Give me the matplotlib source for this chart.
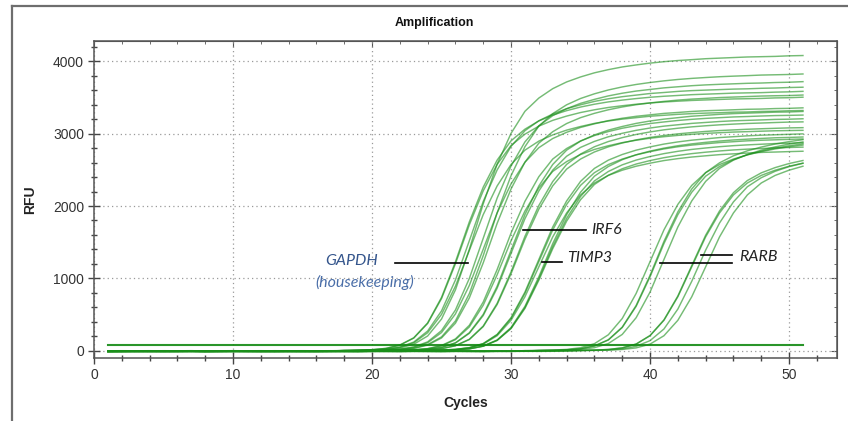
import matplotlib
matplotlib.use("Agg")
import matplotlib.pyplot as plt
from matplotlib.ticker import MultipleLocator
from matplotlib.lines import Line2D

plt.rcParams['font.family'] = ['Liberation Sans', 'DejaVu Sans']

cycles = list(range(1, 52))

# RFU per cycle (1..51)
gapdh = [
    [-18, -12, -6, -5, -6, -4, -5, -6, -5, -4,
     -5, -4, -6, -5, -4, -5, -3, -4, 4, 8,
     16, 37, 89, 203, 438, 840, 1401, 2030, 2578, 3004,
     3309, 3492, 3622, 3715, 3784, 3841, 3885, 3922, 3950, 3975,
     3995, 4011, 4023, 4036, 4044, 4052, 4060, 4064, 4068, 4076, 4080],
    [-8, -7, -8, -6, -7, -8, -7, -6, -8, -7,
     -6, -7, -8, -6, -7, -5, -6, 4, 7, 14,
     32, 78, 178, 384, 737, 1228, 1780, 2261, 2634, 2901,
     3062, 3176, 3257, 3318, 3368, 3407, 3439, 3464, 3485, 3503,
     3517, 3528, 3539, 3546, 3553, 3560, 3564, 3567, 3574, 3578, 3585],
    [-3, -2, -4, -3, -2, -3, -4, -2, -3, -2,
     -3, -4, -2, -3, -2, -3, -1, 3, 5, 11,
     22, 51, 119, 272, 550, 977, 1520, 2063, 2498, 2824,
     3041, 3178, 3272, 3345, 3399, 3446, 3482, 3511, 3533, 3555,
     3569, 3584, 3595, 3602, 3609, 3616, 3620, 3627, 3631, 3638, 3642],
    [-10, -9, -10, -11, -9, -10, -9, -11, -10, -9,
     -10, -9, -11, -10, -9, -10, -8, 2, 5, 10,
     20, 46, 109, 248, 502, 891, 1386, 1881, 2277, 2574,
     2772, 2897, 2983, 3049, 3099, 3142, 3175, 3201, 3221, 3241,
     3254, 3267, 3277, 3284, 3290, 3297, 3300, 3307, 3310, 3317, 3320],
    [-5, -4, -5, -6, -5, -4, -5, -6, -4, -5,
     -4, -5, -6, -5, -4, -5, -3, 3, 7, 14,
     31, 77, 174, 376, 720, 1201, 1740, 2210, 2575, 2836,
     2993, 3104, 3184, 3243, 3292, 3330, 3362, 3386, 3407, 3424,
     3438, 3449, 3459, 3466, 3473, 3480, 3483, 3487, 3494, 3497, 3504],
    [-7, -6, -7, -8, -6, -7, -6, -7, -8, -6,
     -7, -6, -8, -7, -6, -7, -6, -5, -4, 4,
     8, 15, 34, 84, 191, 411, 789, 1314, 1905, 2419,
     2819, 3105, 3277, 3399, 3486, 3551, 3604, 3646, 3680, 3707,
     3730, 3749, 3764, 3776, 3787, 3795, 3802, 3810, 3814, 3818, 3825],
    [-2, -1, -2, -3, -1, -2, -1, -2, -3, -1,
     -2, -1, -3, -2, -1, -2, -1, -2, 3, 6,
     11, 22, 52, 122, 278, 562, 999, 1554, 2109, 2553,
     2886, 3108, 3249, 3345, 3419, 3474, 3522, 3559, 3589, 3611,
     3633, 3648, 3663, 3674, 3682, 3689, 3696, 3700, 3707, 3711, 3719],
    [-12, -11, -12, -10, -11, -12, -11, -10, -12, -11,
     -10, -12, -11, -10, -11, -12, -10, -9, -8, 4,
     7, 14, 32, 77, 176, 380, 729, 1214, 1760, 2235,
     2605, 2869, 3027, 3140, 3221, 3281, 3330, 3369, 3400, 3425,
     3446, 3464, 3478, 3488, 3499, 3506, 3513, 3520, 3524, 3527, 3534],
    [-4, -5, -4, -3, -4, -5, -4, -3, -5, -4,
     -3, -4, -5, -4, -3, -4, -5, -3, 2, 5,
     10, 20, 47, 110, 251, 508, 902, 1403, 1904, 2305,
     2605, 2806, 2933, 3019, 3086, 3136, 3180, 3213, 3240, 3260,
     3280, 3293, 3307, 3317, 3323, 3330, 3337, 3340, 3347, 3350, 3357],
]

irf6 = [
    [-6, -5, -6, -7, -5, -6, -5, -7, -6, -5,
     -6, -5, -7, -6, -5, -6, -7, -5, -6, -4,
     3, 7, 13, 29, 72, 163, 351, 673, 1121, 1625,
     2064, 2405, 2649, 2795, 2899, 2974, 3029, 3075, 3110, 3140,
     3162, 3182, 3198, 3211, 3221, 3231, 3237, 3244, 3250, 3253, 3257],
    [-9, -8, -9, -10, -8, -9, -8, -10, -9, -8,
     -9, -8, -10, -9, -8, -9, -10, -8, -9, -7,
     2, 5, 10, 19, 45, 106, 240, 486, 864, 1344,
     1824, 2208, 2496, 2688, 2810, 2893, 2957, 3005, 3046, 3078,
     3104, 3123, 3142, 3155, 3168, 3178, 3184, 3190, 3197, 3200, 3206],
    [-1, 0, -1, -2, 0, -1, 0, -2, -1, 0,
     -1, 0, -2, -1, 0, -1, -2, 0, -1, 0,
     2, 5, 10, 20, 46, 109, 248, 502, 891, 1386,
     1881, 2277, 2574, 2772, 2897, 2983, 3049, 3099, 3142, 3175,
     3201, 3221, 3241, 3254, 3267, 3277, 3284, 3290, 3297, 3300, 3307],
    [-14, -13, -12, -13, -14, -12, -13, -14, -12, -13,
     -12, -13, -14, -12, -13, -14, -12, -13, -11, -10,
     -8, 3, 6, 13, 28, 70, 158, 341, 654, 1090,
     1580, 2007, 2338, 2575, 2718, 2819, 2891, 2945, 2989, 3024,
     3053, 3075, 3094, 3109, 3122, 3132, 3141, 3147, 3154, 3160, 3163],
    [-4, -3, -4, -5, -3, -4, -3, -5, -4, -3,
     -4, -3, -5, -4, -3, -4, -5, -3, -4, -2,
     -1, 3, 6, 12, 28, 68, 154, 333, 638, 1063,
     1540, 1956, 2279, 2510, 2649, 2747, 2818, 2871, 2914, 2948,
     2975, 2997, 3015, 3031, 3043, 3052, 3061, 3068, 3074, 3080, 3083],
    [-7, -8, -7, -6, -8, -7, -6, -8, -7, -6,
     -7, -8, -6, -7, -8, -7, -6, -7, -8, -5,
     3, 6, 12, 27, 67, 152, 328, 629, 1049, 1520,
     1930, 2250, 2478, 2614, 2712, 2782, 2833, 2876, 2909, 2937,
     2958, 2976, 2991, 3004, 3013, 3022, 3028, 3034, 3040, 3043, 3046],
]

timp3 = [
    [-5, -6, -5, -4, -6, -5, -4, -6, -5, -4,
     -5, -6, -4, -5, -6, -5, -4, -5, -6, -4,
     -5, -3, 2, 5, 9, 18, 42, 99, 225, 456,
     810, 1260, 1710, 2070, 2340, 2520, 2634, 2712, 2772, 2817,
     2856, 2886, 2910, 2928, 2946, 2958, 2970, 2979, 2985, 2991, 2997],
    [-11, -10, -11, -12, -10, -11, -10, -12, -11, -10,
     -11, -10, -12, -11, -10, -11, -12, -10, -11, -9,
     -8, -6, 2, 4, 9, 18, 41, 97, 220, 445,
     791, 1231, 1670, 2022, 2285, 2461, 2573, 2649, 2707, 2751,
     2789, 2819, 2842, 2860, 2877, 2889, 2901, 2909, 2915, 2921, 2927],
    [-3, -2, -3, -4, -2, -3, -2, -4, -3, -2,
     -3, -2, -4, -3, -2, -3, -4, -2, -3, -2,
     -3, -2, -1, 3, 6, 12, 26, 63, 144, 311,
     596, 994, 1440, 1829, 2131, 2347, 2477, 2569, 2635, 2684,
     2724, 2756, 2782, 2802, 2820, 2834, 2845, 2854, 2863, 2868, 2874],
    [-8, -7, -8, -9, -7, -8, -7, -9, -8, -7,
     -8, -7, -9, -8, -7, -8, -9, -7, -8, -7,
     -8, -6, -4, 3, 6, 11, 25, 62, 141, 305,
     584, 973, 1410, 1791, 2087, 2298, 2425, 2515, 2580, 2628,
     2668, 2699, 2724, 2744, 2761, 2775, 2786, 2795, 2803, 2809, 2814],
    [-6, -7, -6, -5, -7, -6, -5, -7, -6, -5,
     -6, -7, -5, -6, -7, -6, -5, -6, -7, -5,
     -4, -3, 2, 4, 8, 17, 39, 91, 207, 420,
     745, 1159, 1573, 1904, 2153, 2318, 2423, 2495, 2550, 2592,
     2628, 2655, 2677, 2694, 2710, 2721, 2732, 2741, 2746, 2752, 2757],
    [-1, -2, -1, 0, -2, -1, 0, -2, -1, 0,
     -1, -2, 0, -1, -2, -1, 0, -1, -2, 0,
     -1, 0, 1, 3, 6, 12, 27, 65, 148, 320,
     613, 1021, 1480, 1880, 2190, 2412, 2546, 2640, 2708, 2759,
     2800, 2833, 2859, 2880, 2898, 2913, 2924, 2934, 2943, 2948, 2954],
]

rarb = [
    [-6, -5, -6, -7, -5, -6, -5, -7, -6, -5,
     -6, -5, -7, -6, -5, -6, -7, -5, -6, -5,
     -6, -7, -5, -6, -5, -7, -6, -5, -6, -5,
     -4, 3, 6, 12, 27, 66, 151, 326, 625, 1042,
     1510, 1918, 2235, 2461, 2597, 2694, 2763, 2815, 2857, 2890, 2917],
    [-9, -10, -9, -8, -10, -9, -8, -10, -9, -8,
     -9, -10, -8, -9, -10, -9, -8, -9, -10, -8,
     -9, -10, -8, -9, -10, -8, -9, -10, -8, -9,
     -7, 3, 6, 12, 27, 65, 148, 320, 613, 1021,
     1480, 1880, 2190, 2412, 2546, 2640, 2708, 2759, 2800, 2833, 2859],
    [-2, -3, -2, -1, -3, -2, -1, -3, -2, -1,
     -2, -3, -1, -2, -3, -2, -1, -2, -3, -1,
     -2, -3, -1, -2, -3, -1, -2, -3, -1, -2,
     -1, 2, 5, 9, 18, 42, 99, 225, 456, 810,
     1260, 1710, 2070, 2340, 2520, 2634, 2712, 2772, 2817, 2856, 2886],
    [-12, -13, -12, -11, -13, -12, -11, -13, -12, -11,
     -12, -13, -11, -12, -13, -12, -11, -12, -13, -11,
     -12, -13, -11, -12, -13, -11, -12, -13, -11, -10,
     2, 4, 9, 18, 41, 97, 220, 445, 791, 1231,
     1670, 2022, 2285, 2461, 2573, 2649, 2707, 2751, 2789, 2819, 2842],
    [-5, -4, -5, -6, -4, -5, -4, -6, -5, -4,
     -5, -4, -6, -5, -4, -5, -6, -4, -5, -4,
     -5, -6, -4, -5, -4, -6, -5, -4, -5, -4,
     -5, -4, -3, 2, 4, 8, 17, 39, 92, 210,
     426, 756, 1176, 1596, 1932, 2184, 2352, 2458, 2531, 2587, 2629],
    [-8, -9, -8, -7, -9, -8, -7, -9, -8, -7,
     -8, -9, -7, -8, -9, -8, -7, -8, -9, -7,
     -8, -9, -7, -8, -9, -7, -8, -9, -7, -8,
     -7, -6, -5, 2, 4, 8, 17, 39, 91, 207,
     420, 745, 1159, 1573, 1904, 2153, 2318, 2423, 2495, 2550, 2592],
    [-3, -2, -3, -4, -2, -3, -2, -4, -3, -2,
     -3, -2, -4, -3, -2, -3, -4, -2, -3, -2,
     -3, -4, -2, -3, -2, -4, -3, -2, -3, -2,
     -3, -2, -3, -1, 3, 6, 11, 25, 61, 139,
     300, 575, 959, 1390, 1765, 2057, 2266, 2391, 2480, 2544, 2591],
    [-10, -11, -10, -9, -11, -10, -9, -11, -10, -9,
     -10, -11, -9, -10, -11, -10, -9, -10, -11, -9,
     -10, -11, -9, -10, -11, -9, -10, -11, -9, -10,
     -9, -10, -8, -6, 2, 4, 8, 17, 39, 91,
     207, 420, 745, 1159, 1573, 1904, 2153, 2318, 2423, 2495, 2550],
]

# flat well near the bottom, cycle 1 to 51
flat_cycles = [1, 51]
flat_rfu = [80, 80]

fig = plt.figure(figsize=(8.48, 4.21), dpi=100)
ax = fig.add_axes([94 / 848, 1 - 358.3 / 421, 743 / 848, 317.6 / 421])

ax.grid(True, which='major', color='#9a9a9a', linestyle=(0, (1, 2.5)), linewidth=0.9)
ax.set_axisbelow(True)

for group in (gapdh, irf6, timp3, rarb):
    for rfu in group:
        assert len(rfu) == len(cycles)
        ax.plot(cycles, rfu, color='#1a8f1a', alpha=0.6, lw=1.05)
ax.plot(flat_cycles, flat_rfu, color='#138a13', alpha=0.9, lw=1.5)

ax.set_xlim(0, 53.45)
ax.set_ylim(-105, 4285)
ax.xaxis.set_major_locator(MultipleLocator(10))
ax.xaxis.set_minor_locator(MultipleLocator(2))
ax.yaxis.set_major_locator(MultipleLocator(1000))
ax.yaxis.set_minor_locator(MultipleLocator(200))
ax.tick_params(which='major', direction='inout', length=8.5, width=1.0,
               color='#444444', labelcolor='#333333', labelsize=10, pad=3)
ax.tick_params(which='minor', direction='inout', length=4.5, width=1.0, color='#444444')
for s in ax.spines.values():
    s.set_color('#555555')
    s.set_linewidth(1.1)

# small inward ticks on the top and right frame
secx = ax.secondary_xaxis('top')
secx.xaxis.set_major_locator(MultipleLocator(10))
secx.xaxis.set_minor_locator(MultipleLocator(2))
secx.tick_params(which='major', direction='in', length=4, color='#555555', labeltop=False)
secx.tick_params(which='minor', direction='in', length=2.5, color='#555555')
secy = ax.secondary_yaxis('right')
secy.yaxis.set_major_locator(MultipleLocator(1000))
secy.yaxis.set_minor_locator(MultipleLocator(200))
secy.tick_params(which='major', direction='in', length=4, color='#555555', labelright=False)
secy.tick_params(which='minor', direction='in', length=2.5, color='#555555')
for sa in (secx, secy):
    for s in sa.spines.values():
        s.set_color('#555555')

ax.set_xlabel('Cycles', fontsize=10, fontweight='bold', color='#222222', labelpad=10)
fig.text(30 / 848, 1 - 200 / 421, 'RFU', rotation=90, fontsize=10, fontweight='bold',
         color='#222222', ha='center', va='center')
fig.text(434 / 848, 1 - 23 / 421, 'Amplification', fontsize=9, fontweight='bold',
         color='#111111', ha='center', va='center')

# outer frame of the instrument window
fig.add_artist(Line2D([11.5 / 848, 11.5 / 848], [0, 1 - 6 / 421], color='#6e6e6e', lw=1.6))
fig.add_artist(Line2D([11.5 / 848, 1], [1 - 6 / 421, 1 - 6 / 421], color='#6e6e6e', lw=1.6))

# gene labels
note = dict(family=['Lato', 'DejaVu Sans'], style='italic', fontsize=11.5, va='center')
ax.text(16.6, 1235, 'GAPDH', color='#34558c', **note)
ax.text(15.9, 940, '(housekeeping)', color='#4a6ea8', **note)
ax.plot([21.65, 26.9], [1208, 1208], color='black', lw=1.2)
ax.text(35.75, 1668, 'IRF6', color='#222222', **note)
ax.plot([30.86, 35.4], [1675, 1675], color='black', lw=1.2)
ax.text(34.0, 1281, 'TIMP3', color='#222222', **note)
ax.plot([32.2, 33.7], [1226, 1226], color='black', lw=1.2)
ax.text(46.4, 1295, 'RARB', color='#222222', **note)
ax.plot([43.67, 45.9], [1323, 1323], color='black', lw=1.2)
ax.plot([40.7, 45.9], [1212, 1212], color='black', lw=1.2)

fig.savefig('out.png', dpi=100)
